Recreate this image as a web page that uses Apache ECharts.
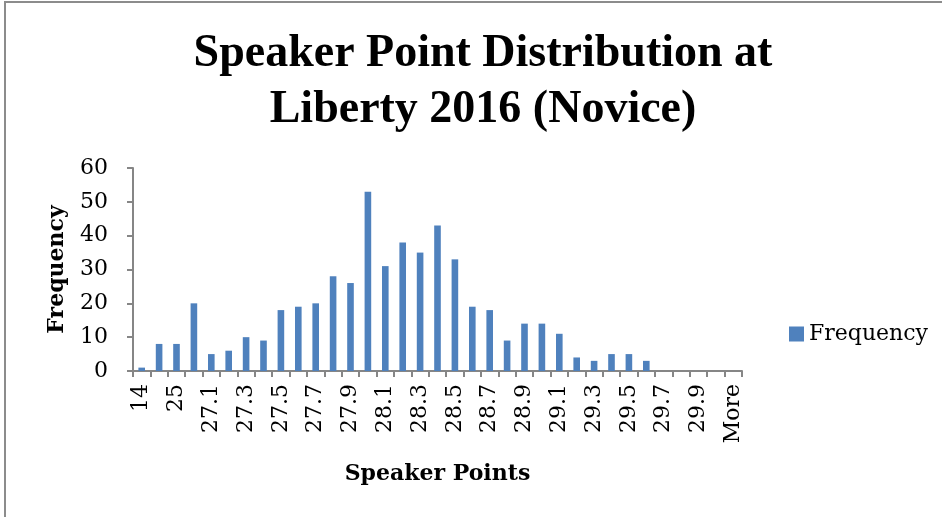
<!DOCTYPE html>
<html>
<head>
<meta charset="utf-8">
<script src="https://cdn.jsdelivr.net/npm/echarts@6/dist/echarts.min.js"></script>
<style>
html,body{margin:0;padding:0;background:#fff;}
#main{width:942px;height:517px;}
</style>
</head>
<body>
<div id="main"></div>
<script>
var categories = ['14','24','25','27','27.1','27.2','27.3','27.4','27.5','27.6','27.7','27.8','27.9','28','28.1','28.2','28.3','28.4','28.5','28.6','28.7','28.8','28.9','29','29.1','29.2','29.3','29.4','29.5','29.6','29.7','29.8','29.9','30','More'];
var frequency = [1,8,8,20,5,6,10,9,18,19,20,28,26,53,31,38,35,43,33,19,18,9,14,14,11,4,3,5,5,3,0,0,0,0,0];
var yTicks = {min:0, max:60, interval:10};
var titleText = 'Speaker Point Distribution at\nLiberty 2016 (Novice)';

var chart = echarts.init(document.getElementById('main'), null, {renderer:'canvas'});
var axisColor = '#868686';
chart.setOption({
  animation:false,
  backgroundColor:'#ffffff',
  title:{
    text:titleText,
    top:21,
    textAlign:'center',
    left:478,
    textStyle:{fontFamily:'Liberation Serif', fontWeight:'bold', fontSize:46, lineHeight:56, color:'#000'}
  },
  legend:{
    left:784, top:318,
    itemWidth:15, itemHeight:15,
    icon:'rect',
    itemGap:6,
    textStyle:{fontFamily:'DejaVu Serif', fontSize:22, color:'#000', padding:[0,0,0,0]},
    data:['Frequency']
  },
  grid:{left:133, right:200, top:168, bottom:146, containLabel:false},
  xAxis:{
    type:'category',
    data:categories,
    name:'Speaker Points',
    nameLocation:'middle',
    nameGap:92,
    nameTextStyle:{fontFamily:'DejaVu Serif', fontWeight:'bold', fontSize:22, color:'#000'},
    axisLine:{lineStyle:{color:axisColor, width:2}},
    axisTick:{show:true, length:6, interval:0, lineStyle:{color:axisColor, width:2}},
    axisLabel:{interval:1, rotate:90, fontFamily:'DejaVu Serif', fontSize:22, color:'#000', margin:13}
  },
  yAxis:{
    type:'value',
    min:yTicks.min, max:yTicks.max, interval:yTicks.interval,
    name:'Frequency',
    nameLocation:'middle',
    nameRotate:90,
    nameGap:65,
    nameTextStyle:{fontFamily:'DejaVu Serif', fontWeight:'bold', fontSize:22, color:'#000'},
    axisLine:{show:true, lineStyle:{color:axisColor, width:2}},
    axisTick:{show:true, length:6, lineStyle:{color:axisColor, width:2}},
    splitLine:{show:false},
    axisLabel:{fontFamily:'DejaVu Serif', fontSize:22, color:'#000', margin:25}
  },
  series:[{
    name:'Frequency',
    type:'bar',
    data:frequency,
    barWidth:'38%',
    itemStyle:{color:'#4f81bd'}
  }],
  graphic:[{
    type:'rect',
    shape:{x:5, y:2, width:1200, height:800},
    style:{fill:'none', stroke:'#8c8c8c', lineWidth:2},
    silent:true
  }]
});
</script>
</body>
</html>
